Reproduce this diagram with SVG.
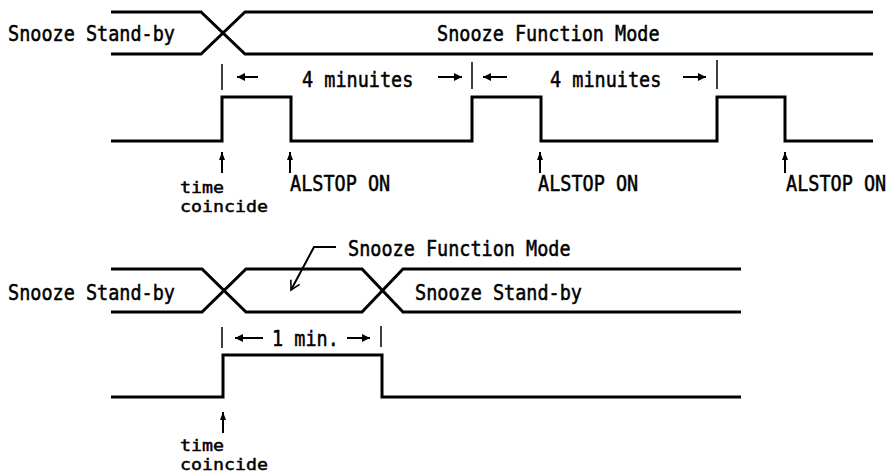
<svg xmlns="http://www.w3.org/2000/svg" width="886" height="474" viewBox="0 0 886 474">
<style>
.bg{fill:#fff}
.sig{fill:none;stroke:#000;stroke-width:3;stroke-linejoin:miter}
.tick{stroke:#000;stroke-width:1.5}
.arr{stroke:#000;stroke-width:2;fill:none}
.lbl{font-family:"DejaVu Sans Mono","Liberation Mono",monospace;font-size:18.5px;fill:#000;stroke:#000;stroke-width:0.45}
.sm{font-family:"DejaVu Sans Mono","Liberation Mono",monospace;font-size:16.2px;fill:#000;stroke:#000;stroke-width:0.45}
</style>
<defs>
<marker id="ah" markerUnits="userSpaceOnUse" markerWidth="10" markerHeight="10" refX="8" refY="4" orient="auto">
<path d="M0,0 L8,4 L0,8 Z" fill="#000"/>
</marker>
<marker id="ahup" markerUnits="userSpaceOnUse" markerWidth="10" markerHeight="8" refX="8" refY="3" orient="auto">
<path d="M0,0 L8,3 L0,6 Z" fill="#000"/>
</marker>
<marker id="ahopen" markerUnits="userSpaceOnUse" markerWidth="14" markerHeight="14" refX="10" refY="6" orient="auto">
<path d="M1,1 L10,6 L1,11" fill="none" stroke="#000" stroke-width="1.6"/>
</marker>
</defs>
<rect class="bg" x="0" y="0" width="886" height="474"/>

<g id="top-bus">
<path class="sig" d="M111,12 H201 L245,54 H873"/>
<path class="sig" d="M111,54 H201 L245,12 H873"/>
<text class="lbl" transform="translate(8,41) scale(1,1.15)">Snooze Stand-by</text>
<text class="lbl" transform="translate(437,41) scale(1,1.15)">Snooze Function Mode</text>
</g>

<g id="top-dimensions">
<line class="tick" x1="222" y1="64" x2="222" y2="90"/>
<line class="tick" x1="472" y1="62" x2="472" y2="89"/>
<line class="tick" x1="717" y1="60" x2="717" y2="89"/>
<line class="arr" x1="258" y1="77" x2="237" y2="77" marker-end="url(#ah)"/>
<line class="arr" x1="438" y1="77" x2="462" y2="77" marker-end="url(#ah)"/>
<line class="arr" x1="507" y1="77" x2="483" y2="77" marker-end="url(#ah)"/>
<line class="arr" x1="683" y1="77" x2="706" y2="77" marker-end="url(#ah)"/>
<text class="lbl" transform="translate(302,87) scale(1,1.15)">4 minuites</text>
<text class="lbl" transform="translate(550,87) scale(1,1.15)">4 minuites</text>
</g>

<g id="top-pulse">
<path class="sig" d="M111,141 H222 V97 H291 V141 H472 V97 H541 V141 H717 V97 H785 V141 H873"/>
</g>

<g id="top-events">
<line class="arr" x1="222" y1="173" x2="222" y2="152" marker-end="url(#ahup)"/>
<line class="arr" x1="290" y1="173" x2="290" y2="152" marker-end="url(#ahup)"/>
<line class="arr" x1="540" y1="173" x2="540" y2="152" marker-end="url(#ahup)"/>
<line class="arr" x1="785" y1="173" x2="785" y2="152" marker-end="url(#ahup)"/>
<text class="sm" x="180" y="193" textLength="44" lengthAdjust="spacingAndGlyphs">time</text>
<text class="sm" x="180" y="212" textLength="88" lengthAdjust="spacingAndGlyphs">coincide</text>
<text class="lbl" transform="translate(290,191) scale(1,1.15)">ALSTOP ON</text>
<text class="lbl" transform="translate(538,191) scale(1,1.15)">ALSTOP ON</text>
<text class="lbl" transform="translate(786,191) scale(1,1.15)">ALSTOP ON</text>
</g>

<g id="bottom-bus">
<path class="sig" d="M111,269 H202 L246,312 H362 L403,269 H741"/>
<path class="sig" d="M111,312 H202 L246,269 H362 L403,312 H741"/>
<text class="lbl" transform="translate(8,300) scale(1,1.15)">Snooze Stand-by</text>
<text class="lbl" transform="translate(415,300) scale(1,1.15)">Snooze Stand-by</text>
<text class="lbl" transform="translate(348,256) scale(1,1.15)">Snooze Function Mode</text>
<path class="arr" d="M336,247 H314 L291,290" stroke-width="1.6" marker-end="url(#ahopen)"/>
</g>

<g id="bottom-dimensions">
<line class="tick" x1="222" y1="327" x2="222" y2="348"/>
<line class="tick" x1="381" y1="326" x2="381" y2="347"/>
<line class="arr" x1="263" y1="338" x2="235" y2="338" marker-end="url(#ah)"/>
<line class="arr" x1="347" y1="338" x2="370" y2="338" marker-end="url(#ah)"/>
<text class="lbl" transform="translate(272,346) scale(1,1.15)">1 min.</text>
</g>

<g id="bottom-pulse">
<path class="sig" d="M111,397 H223 V355 H382 V397 H741"/>
</g>

<g id="bottom-events">
<line class="arr" x1="223" y1="433" x2="223" y2="412" marker-end="url(#ahup)"/>
<text class="sm" x="180" y="451" textLength="44" lengthAdjust="spacingAndGlyphs">time</text>
<text class="sm" x="180" y="470" textLength="88" lengthAdjust="spacingAndGlyphs">coincide</text>
</g>
</svg>
